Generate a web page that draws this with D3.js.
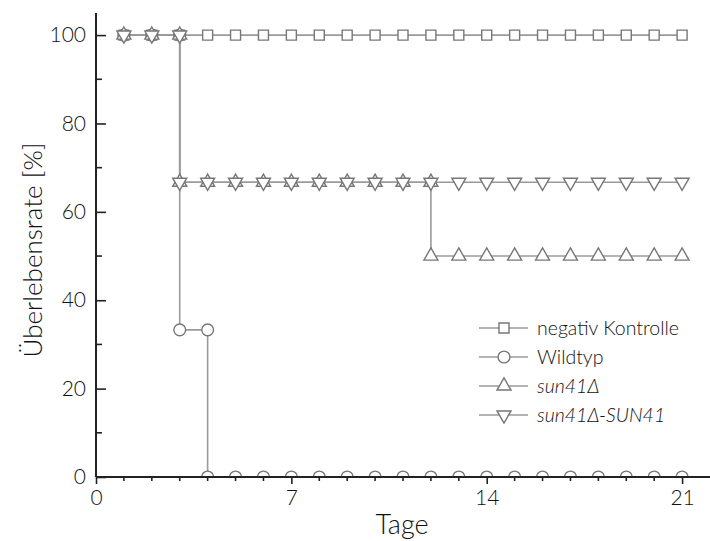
<!DOCTYPE html>
<html>
<head>
<meta charset="utf-8">
<script src="https://cdn.jsdelivr.net/npm/d3@7"></script>
<style>
  body { margin: 0; background: #fff; }
  text { font-family: Lato, "Open Sans", sans-serif; font-weight: 300; fill: #111; }
</style>
</head>
<body>
<svg id="chart" width="710" height="541"></svg>
<script>
// survival data (Tage / Überlebensrate %)
const kontrolleX = [1,2,3,4,5,6,7,8,9,10,11,12,13,14,15,16,17,18,19,20,21];
const kontrolleY = [100,100,100,100,100,100,100,100,100,100,100,100,100,100,100,100,100,100,100,100,100];

const wildtypX = [1,2,3,3,4,4,5,6,7,8,9,10,11,12,13,14,15,16,17,18,19,20,21];
const wildtypY = [100,100,100,33.3,33.3,0,0,0,0,0,0,0,0,0,0,0,0,0,0,0,0,0,0];

const sunX = [1,2,3,3,4,5,6,7,8,9,10,11,12,12,13,14,15,16,17,18,19,20,21];
const sunY = [100,100,100,66.7,66.7,66.7,66.7,66.7,66.7,66.7,66.7,66.7,66.7,50,50,50,50,50,50,50,50,50,50];

const rescueX = [1,2,3,3,4,5,6,7,8,9,10,11,12,13,14,15,16,17,18,19,20,21];
const rescueY = [100,100,100,66.7,66.7,66.7,66.7,66.7,66.7,66.7,66.7,66.7,66.7,66.7,66.7,66.7,66.7,66.7,66.7,66.7,66.7,66.7];

const xTicks = [0,7,14,21];
const yTicks = [0,20,40,60,80,100];

const series = [
  {name: "negativ Kontrolle", x: kontrolleX, y: kontrolleY, shape: "square", italic: false},
  {name: "Wildtyp", x: wildtypX, y: wildtypY, shape: "circle", italic: false},
  {name: "sun41\u0394", x: sunX, y: sunY, shape: "up", italic: true},
  {name: "sun41\u0394-SUN41", x: rescueX, y: rescueY, shape: "down", italic: true}
];

const svg = d3.select("#chart");
const m = {left: 96, right: 0, top: 13, bottom: 64};
const W = 710, H = 541;

let x = d3.scaleLinear().domain([0, 22]).range([m.left, W - m.right]);
let y = d3.scaleLinear().domain([0, 105]).range([H - m.bottom, m.top]);

const lineCol = "#9a9a9a", markCol = "#777";

svg.append("clipPath").attr("id", "plotclip")
  .append("rect")
  .attr("x", m.left).attr("y", 0)
  .attr("width", W - m.left).attr("height", y(0));

const plot = svg.append("g").attr("clip-path", "url(#plotclip)");

let line = d3.line().x(d => x(d[0])).y(d => y(d[1]));

// lines first
series.forEach(s => {
  let pts = s.x.map((v, i) => [v, s.y[i]]);
  plot.append("path")
    .attr("d", line(pts))
    .attr("fill", "none")
    .attr("stroke", lineCol)
    .attr("stroke-width", 1.6);
});

const sym = {
  square: d3.symbol().type(d3.symbolSquare).size(100),
  circle: d3.symbol().type(d3.symbolCircle).size(110),
  up: d3.symbol().type(d3.symbolTriangle).size(85)
};

function drawMarker(g, shape, cx, cy) {
  let p = g.append("path")
    .attr("fill", "#fff")
    .attr("stroke", markCol)
    .attr("stroke-width", 1.4);
  if (shape === "down") {
    p.attr("d", sym.up()).attr("transform", `translate(${cx},${cy}) rotate(180)`);
  } else {
    p.attr("d", sym[shape]()).attr("transform", `translate(${cx},${cy})`);
  }
}

series.forEach(s => {
  s.x.forEach((v, i) => drawMarker(plot, s.shape, x(v), y(s.y[i])));
});

// axes
let xAxis = d3.axisBottom(x).tickValues(xTicks).tickSize(7).tickPadding(6);
let gx = svg.append("g").attr("transform", `translate(0,${y(0)})`).call(xAxis);
gx.selectAll(".tick line").attr("stroke", "#222").attr("stroke-width", 1.6);
gx.select(".domain").attr("d", `M${x(0)},0H${W}`).attr("stroke", "#222").attr("stroke-width", 2);
gx.selectAll("text").style("font-size", "21px").attr("dy", "0.71em");
let xMinor = d3.range(1, 22).filter(d => d % 7 !== 0);
gx.selectAll(".mtick").data(xMinor).enter().append("line")
  .attr("x1", d => x(d)).attr("x2", d => x(d))
  .attr("y1", 0).attr("y2", 4)
  .attr("stroke", "#222").attr("stroke-width", 1.6);

let yAxis = d3.axisLeft(y).tickValues(yTicks).tickSize(-10).tickPadding(10);
let gy = svg.append("g").attr("transform", `translate(${x(0)},0)`).call(yAxis);
gy.selectAll(".tick line").attr("stroke", "#222").attr("stroke-width", 1.6);
gy.select(".domain").attr("d", `M0,${y(105)}V${y(0)}`).attr("stroke", "#222").attr("stroke-width", 2);
gy.selectAll("text").style("font-size", "21px");
let yMinor = [10,30,50,70,90];
gy.selectAll(".mtick").data(yMinor).enter().append("line")
  .attr("x1", 0).attr("x2", 6)
  .attr("y1", d => y(d)).attr("y2", d => y(d))
  .attr("stroke", "#222").attr("stroke-width", 1.6);

// axis titles
svg.append("text")
  .attr("x", 402).attr("y", 534)
  .attr("text-anchor", "middle")
  .style("font-size", "27px")
  .text("Tage");

svg.append("text")
  .attr("transform", `translate(42,250) rotate(-90)`)
  .attr("text-anchor", "middle")
  .style("font-size", "26px")
  .text("\u00dcberlebensrate [%]");

// legend
const leg = svg.append("g");
series.forEach((s, i) => {
  let ly = 328 + i * 29;
  leg.append("line")
    .attr("x1", 479).attr("x2", 528)
    .attr("y1", ly).attr("y2", ly)
    .attr("stroke", lineCol).attr("stroke-width", 1.6);
  drawMarker(leg, s.shape, 504, ly);
  leg.append("text")
    .attr("x", 537).attr("y", ly)
    .attr("dy", "0.35em")
    .style("font-size", "19.5px")
    .style("font-style", s.italic ? "italic" : "normal")
    .text(s.name);
});
</script>
</body>
</html>
